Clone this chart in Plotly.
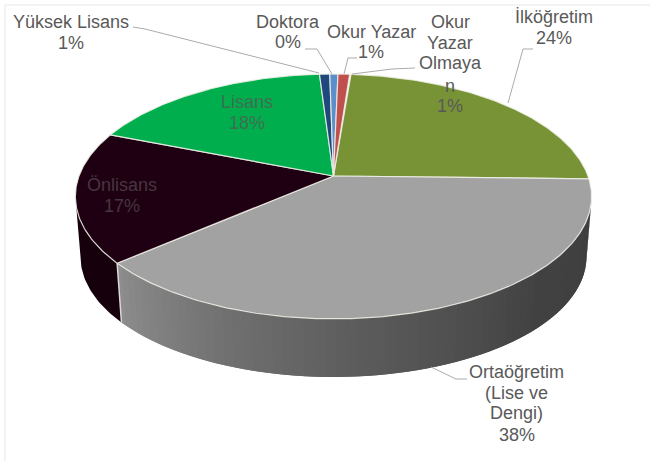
import numpy as np
import plotly.graph_objects as go

# ---- data (clockwise from the first slice) ----
categories = ["İlköğretim", "Ortaöğretim (Lise ve Dengi)", "Önlisans", "Lisans",
              "Yüksek Lisans", "Doktora", "Okur Yazar", "Okur Yazar Olmayan"]
shares = [24.1, 38.3, 17.3, 18.0, 0.75, 0.6, 0.85, 0.1]
percent_labels = ["24%", "38%", "17%", "18%", "1%", "0%", "1%", "1%"]
top_colors = ["#789336", "#A2A2A2", "#1F0013", "#00AE4E", "#1F497D", "#5B8FCC", "#C0504D", "#C0504D"]
side_colors = [None, None, "#15000C", None, None, None, None, None]

# ---- drawing helpers: perspective projection of a disc ----
W, H_PX = 650, 461
AX, AY = 333.5, 176.0
R, H, K = 254.5, 119.0, 0.167
START = 4.6
DEPTH, SHRINK = 61.0, 0.98
SIL = np.degrees(np.arccos(-K))  # angle of the widest point of the disc outline


def top_pt(deg):
    t = np.radians(deg)
    s = 1 / (1 + K * np.cos(t))
    return AX + R * np.sin(t) * s, AY - H * np.cos(t) * s


def bot_pt(deg):
    x, y = top_pt(deg)
    return AX + (x - AX) * SHRINK, AY + (y - AY) * SHRINK + DEPTH


total = sum(shares)
edges = START + np.concatenate([[0], np.cumsum(shares)]) * 360 / total

fig = go.Figure()


def poly(xs, ys, fill, line=None, width=0):
    fig.add_trace(go.Scatter(x=xs, y=ys, mode="lines", fill="toself", fillcolor=fill,
                             line=dict(color=line or fill, width=width if line else 0),
                             hoverinfo="skip", showlegend=False))


# side wall: overlapping strips so no seams show
grad_t = [91, 135, 175, 200, 229.6]
grad_v = [62, 66, 92, 112, 142]
a0, a1 = SIL, edges[2]
STEP = 2.0
for a in np.arange(a0, a1, STEP):
    v = int(np.interp(a + STEP / 2, grad_t, grad_v))
    col = f"rgb({v},{v},{v})"
    ts = np.linspace(a, min(a + STEP * 2, a1), 5)
    tx, ty = top_pt(ts)
    bx, by = bot_pt(ts[::-1])
    poly(np.r_[tx, bx], np.r_[ty, by], col)
ts = np.linspace(edges[2], 360 - SIL, 30)
tx, ty = top_pt(ts)
bx, by = bot_pt(ts[::-1])
poly(np.r_[tx, bx], np.r_[ty, by], side_colors[2])

# top faces
for i, c in enumerate(top_colors):
    if shares[i] < 0.2:
        continue
    ts = np.linspace(edges[i], edges[i + 1], max(3, int(shares[i] * 6)))
    x, y = top_pt(ts)
    poly(np.r_[AX, x, AX], np.r_[AY, y, AY], c, "rgba(240,240,232,0.85)", 1.2)

# light edge between the two visible wall segments
e = edges[2]
px0, py0 = top_pt(e)
px1, py1 = bot_pt(e)
fig.add_trace(go.Scatter(x=[px0, px1], y=[py0, py1], mode="lines",
                         line=dict(color="#DDD6DC", width=1.5), hoverinfo="skip", showlegend=False))

# leader lines
leaders = [
    [(133, 27), (145, 29), (319, 73)],
    [(305, 49), (317, 49), (332, 74)],
    [(357, 58), (348, 58), (344, 74)],
    [(415, 68), (392, 69), (352, 74)],
    [(533, 49), (523, 49), (508, 103)],
    [(467, 379), (456, 379), (431, 367)],
]
for pts in leaders:
    fig.add_trace(go.Scatter(x=[p[0] for p in pts], y=[p[1] for p in pts], mode="lines",
                             line=dict(color="#ABABAB", width=1), hoverinfo="skip", showlegend=False))

# labels: lines, centre x, line ys, colour
TXT = "#595959"
labels = [
    (["Yüksek Lisans", percent_labels[4]], 70.5, [22, 43], TXT),
    (["Doktora", percent_labels[5]], 288, [22, 42], TXT),
    (["Okur Yazar", percent_labels[6]], 371, [32, 52], TXT),
    (["Okur", "Yazar", "Olmaya", "n", percent_labels[7]], 450, [22, 43, 63, 86, 106], TXT),
    (["İlköğretim", percent_labels[0]], 554, [17, 38], TXT),
    (["Lisans", percent_labels[3]], 247, [102, 123], "#3F6F50"),
    (["Önlisans", percent_labels[2]], 122, [185, 206], "#46363F"),
    (["Ortaöğretim", "(Lise ve", "Dengi)", percent_labels[1]], 516.5, [372, 393, 413, 435], TXT),
]
for lines, cx, ys, col in labels:
    for t, yy in zip(lines, ys):
        fig.add_annotation(x=cx, y=yy, text=t, showarrow=False, xanchor="center", yanchor="middle",
                           font=dict(family="Liberation Sans", size=18, color=col))

fig.update_layout(
    width=W, height=H_PX, margin=dict(l=0, r=0, t=0, b=0),
    paper_bgcolor="white", plot_bgcolor="white", showlegend=False,
    xaxis=dict(range=[0, W], visible=False, fixedrange=True),
    yaxis=dict(range=[H_PX, 0], visible=False, fixedrange=True),
    shapes=[
        dict(type="line", x0=5, x1=W, y0=5, y1=5, line=dict(color="#E6E6E6", width=1)),
        dict(type="line", x0=5, x1=5, y0=5, y1=H_PX, line=dict(color="#E6E6E6", width=1)),
    ],
)
fig.write_html("out.html", config={"displayModeBar": False},
               post_script="document.body.style.margin='0';document.documentElement.style.overflow='hidden';")
